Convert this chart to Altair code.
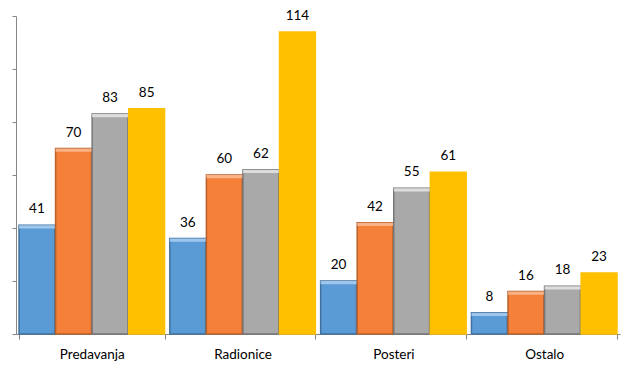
import altair as alt
import pandas as pd

categories = ["Predavanja", "Radionice", "Posteri", "Ostalo"]
series = ["S1", "S2", "S3", "S4"]
values = {
    "S1": [41, 36, 20, 8],
    "S2": [70, 60, 42, 16],
    "S3": [83, 62, 55, 18],
    "S4": [85, 114, 61, 23],
}
colors = ["#5B9BD5", "#F4803A", "#A9A9A9", "#FFC000"]
strokes = ["#41729F", "#B8602A", "#777777", "#FFC000"]
highlights = ["#A6CBEE", "#F9B88E", "#E2E2E2", "#FFC000"]

rows = []
for s in series:
    for c, v in zip(categories, values[s]):
        rows.append({"cat": c, "series": s, "value": v})
df = pd.DataFrame(rows)

x = alt.X("cat:N", sort=categories, title=None,
          scale=alt.Scale(paddingInner=0.035, paddingOuter=0.02),
          axis=alt.Axis(labelAngle=0, tickBand="extent", labelFontSize=13.5,
                        labelFont="Lato", labelColor="#000000", labelPadding=8,
                        domainColor="#868686", tickColor="#868686", tickSize=5))
xo = alt.XOffset("series:N", sort=series, scale=alt.Scale(paddingInner=0.02))
y = alt.Y("value:Q", title=None,
          scale=alt.Scale(domain=[0, 120]),
          axis=alt.Axis(values=[0, 20, 40, 60, 80, 100, 120], labels=False, grid=False,
                        domainColor="#868686", tickColor="#868686", tickSize=4))

base = alt.Chart(df).encode(x=x, xOffset=xo)

color_enc = alt.Color("series:N", sort=series, scale=alt.Scale(domain=series, range=colors), legend=None)

bars = base.mark_bar(strokeWidth=1.5).encode(
    y=y,
    color=color_enc,
    stroke=alt.Stroke("series:N", sort=series, scale=alt.Scale(domain=series, range=strokes), legend=None),
)

tops = base.transform_filter(alt.datum.series != "S4").transform_calculate(
    top2="datum.value - 1.2"
).mark_bar(opacity=0.9).encode(
    y=alt.Y("value:Q"),
    y2="top2:Q",
    color=alt.Color("series:N", sort=series, scale=alt.Scale(domain=series, range=highlights), legend=None),
)

labels = base.mark_text(baseline="bottom", dy=-9, fontSize=13.5, font="Lato", color="#000000").encode(
    y=alt.Y("value:Q"),
    text="value:Q",
)

chart = alt.layer(bars, tops, labels).resolve_scale(color="independent").properties(
    width=604, height=318,
    autosize=alt.AutoSizeParams(type="none"),
    padding={"left": 8, "top": 8, "right": 8, "bottom": 30},
).configure_view(stroke=None)

chart.save("out.html", embed_options={"renderer": "svg", "actions": False})
